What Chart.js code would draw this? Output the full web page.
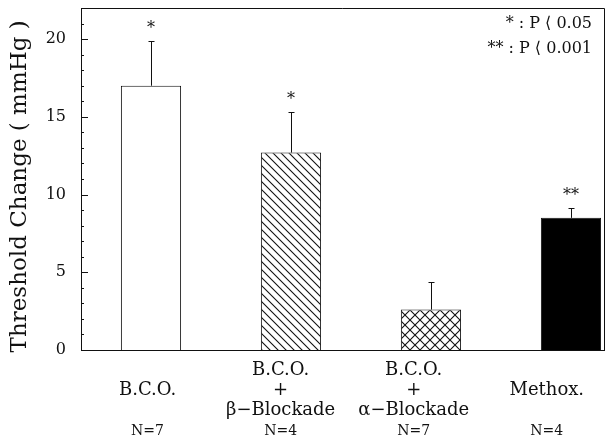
<!DOCTYPE html>
<html>
<head>
<meta charset="utf-8">
<script src="https://cdn.jsdelivr.net/npm/chart.js@4/dist/chart.umd.min.js"></script>
<style>
  html, body { margin: 0; padding: 0; background: #fff; }
  #wrap { width: 609px; height: 440px; }
</style>
</head>
<body>
<div id="wrap"><canvas id="c" width="609" height="440"></canvas></div>
<script>
// Treatment groups (multi-line axis labels) and sample sizes
const groups = [
  ['', 'B.C.O.', ''],
  ['B.C.O.', '+', 'β−Blockade'],
  ['B.C.O.', '+', 'α−Blockade'],
  ['', 'Methox.', '']
];
const sampleSizes = ['N=7', 'N=4', 'N=7', 'N=4'];

// Mean threshold change (mmHg) and upper error (SEM)
const meanChange = [17.0, 12.7, 2.6, 8.5];
const errorUp = [2.9, 2.6, 1.8, 0.65];
const significance = ['*', '*', '', '**'];

const yTickValues = [0, 5, 10, 15, 20];
const legendLines = ['* : P ⟨ 0.05', '** : P ⟨ 0.001'];

const SERIF = '"DejaVu Serif", "Liberation Serif", serif';
const INK = '#111';

function makePattern(size, draw) {
  const c = document.createElement('canvas');
  c.width = size; c.height = size;
  const g = c.getContext('2d');
  g.fillStyle = '#fff';
  g.fillRect(0, 0, size, size);
  g.strokeStyle = INK;
  g.lineWidth = 1.1;
  g.beginPath();
  draw(g, size);
  g.stroke();
  return document.getElementById('c').getContext('2d').createPattern(c, 'repeat');
}

// "\" hatching
const backHatch = makePattern(8, (g, s) => {
  g.moveTo(-1, -1); g.lineTo(s + 1, s + 1);
  g.moveTo(-s - 1, -1); g.lineTo(1, s + 1);
  g.moveTo(s - 1, -1); g.lineTo(2 * s + 1, s + 1);
});
// cross hatching
const crossHatch = makePattern(10, (g, s) => {
  g.moveTo(-1, -1); g.lineTo(s + 1, s + 1);
  g.moveTo(-1, s + 1); g.lineTo(s + 1, -1);
});

const fills = ['#fff', backHatch, crossHatch, '#000'];

const annotate = {
  id: 'annotate',
  afterDatasetsDraw(chart) {
    const ctx = chart.ctx;
    const y = chart.scales.y;
    const area = chart.chartArea;
    const meta = chart.getDatasetMeta(0);
    ctx.save();
    ctx.strokeStyle = INK;
    ctx.fillStyle = INK;
    ctx.lineWidth = 1;

    // error bars and significance marks
    meta.data.forEach((bar, i) => {
      const x = Math.round(bar.x) + 0.5;
      const base = y.getPixelForValue(meanChange[i]);
      const top = Math.round(y.getPixelForValue(meanChange[i] + errorUp[i])) + 0.5;
      ctx.beginPath();
      ctx.moveTo(x, base);
      ctx.lineTo(x, top);
      ctx.moveTo(x - 3, top);
      ctx.lineTo(x + 3, top);
      ctx.stroke();
      if (significance[i]) {
        ctx.font = '16px ' + SERIF;
        ctx.textAlign = 'center';
        ctx.textBaseline = 'alphabetic';
        ctx.fillText(significance[i], bar.x, top - 9);
      }
    });

    // inward tick marks on the value axis
    ctx.beginPath();
    for (let v = 0; v <= y.max; v++) {
      const py = Math.round(y.getPixelForValue(v)) + 0.5;
      const len = v % 5 === 0 ? 7 : 3;
      ctx.moveTo(area.left, py);
      ctx.lineTo(area.left + len, py);
    }
    ctx.stroke();

    // frame: top and right edges
    ctx.beginPath();
    ctx.moveTo(area.left, Math.round(area.top) + 0.5);
    ctx.lineTo(Math.round(area.right) + 0.5, Math.round(area.top) + 0.5);
    ctx.lineTo(Math.round(area.right) + 0.5, area.bottom);
    ctx.stroke();

    // significance key
    ctx.font = '16px ' + SERIF;
    ctx.textAlign = 'right';
    ctx.textBaseline = 'alphabetic';
    legendLines.forEach((t, k) => ctx.fillText(t, 592, 28 + k * 25));
    ctx.restore();
  }
};

function groupTicks(scale) {
  scale.ticks = groups.map((_, i) => ({ value: i }));
}
function noPad(scale) { scale.paddingLeft = 0; scale.paddingRight = 0; }

// label rows below the plot share one evenly spaced grid
const labelAxis = (extra) => Object.assign({
  type: 'linear',
  position: 'bottom',
  offset: false,
  min: -0.5,
  max: 3.43,
  grid: { display: false, drawTicks: false },
  afterBuildTicks: groupTicks
}, extra);

new Chart(document.getElementById('c'), {
  type: 'bar',
  data: {
    datasets: [{
      data: meanChange.map((v, i) => ({ x: i, y: v })),
      backgroundColor: fills,
      borderColor: INK,
      borderWidth: 1,
      borderSkipped: 'start',
      categoryPercentage: 1,
      barPercentage: 0.43
    }]
  },
  options: {
    responsive: false,
    animation: false,
    devicePixelRatio: 1,
    layout: { padding: { top: 8, right: 5, bottom: 0, left: 0 } },
    plugins: { legend: { display: false }, tooltip: { enabled: false } },
    scales: {
      x: {
        type: 'linear',
        display: false,
        offset: false,
        min: -0.5,
        max: 3.236,
        afterBuildTicks: groupTicks
      },
      xGroup: labelAxis({
        weight: 0,
        border: { display: true, color: INK, width: 1 },
        afterFit(scale) { scale.height = 70; noPad(scale); },
        ticks: {
          autoSkip: false,
          maxRotation: 0,
          padding: 10,
          color: INK,
          font: { family: SERIF, size: 18, lineHeight: 1.11 },
          callback: (v, i) => groups[i]
        }
      }),
      xN: labelAxis({
        weight: 1,
        border: { display: false },
        afterFit(scale) { scale.height = 20; noPad(scale); },
        ticks: {
          autoSkip: false,
          maxRotation: 0,
          padding: 3,
          color: INK,
          font: { family: SERIF, size: 14 },
          callback: (v, i) => sampleSizes[i]
        }
      }),
      y: {
        min: 0,
        max: 22,
        grid: { display: false, drawTicks: false },
        border: { display: true, color: INK, width: 1 },
        afterBuildTicks(scale) { scale.ticks = yTickValues.map(v => ({ value: v })); },
        afterFit(scale) { scale.width = 81; scale.paddingTop = 0; scale.paddingBottom = 0; },
        ticks: {
          padding: 15,
          color: INK,
          font: { family: SERIF, size: 16 }
        },
        title: {
          display: true,
          text: 'Threshold Change ( mmHg )\u00a0\u00a0',
          color: INK,
          font: { family: SERIF, size: 23 },
          padding: { top: 6, bottom: 0 }
        }
      }
    }
  },
  plugins: [annotate]
});
</script>
</body>
</html>
